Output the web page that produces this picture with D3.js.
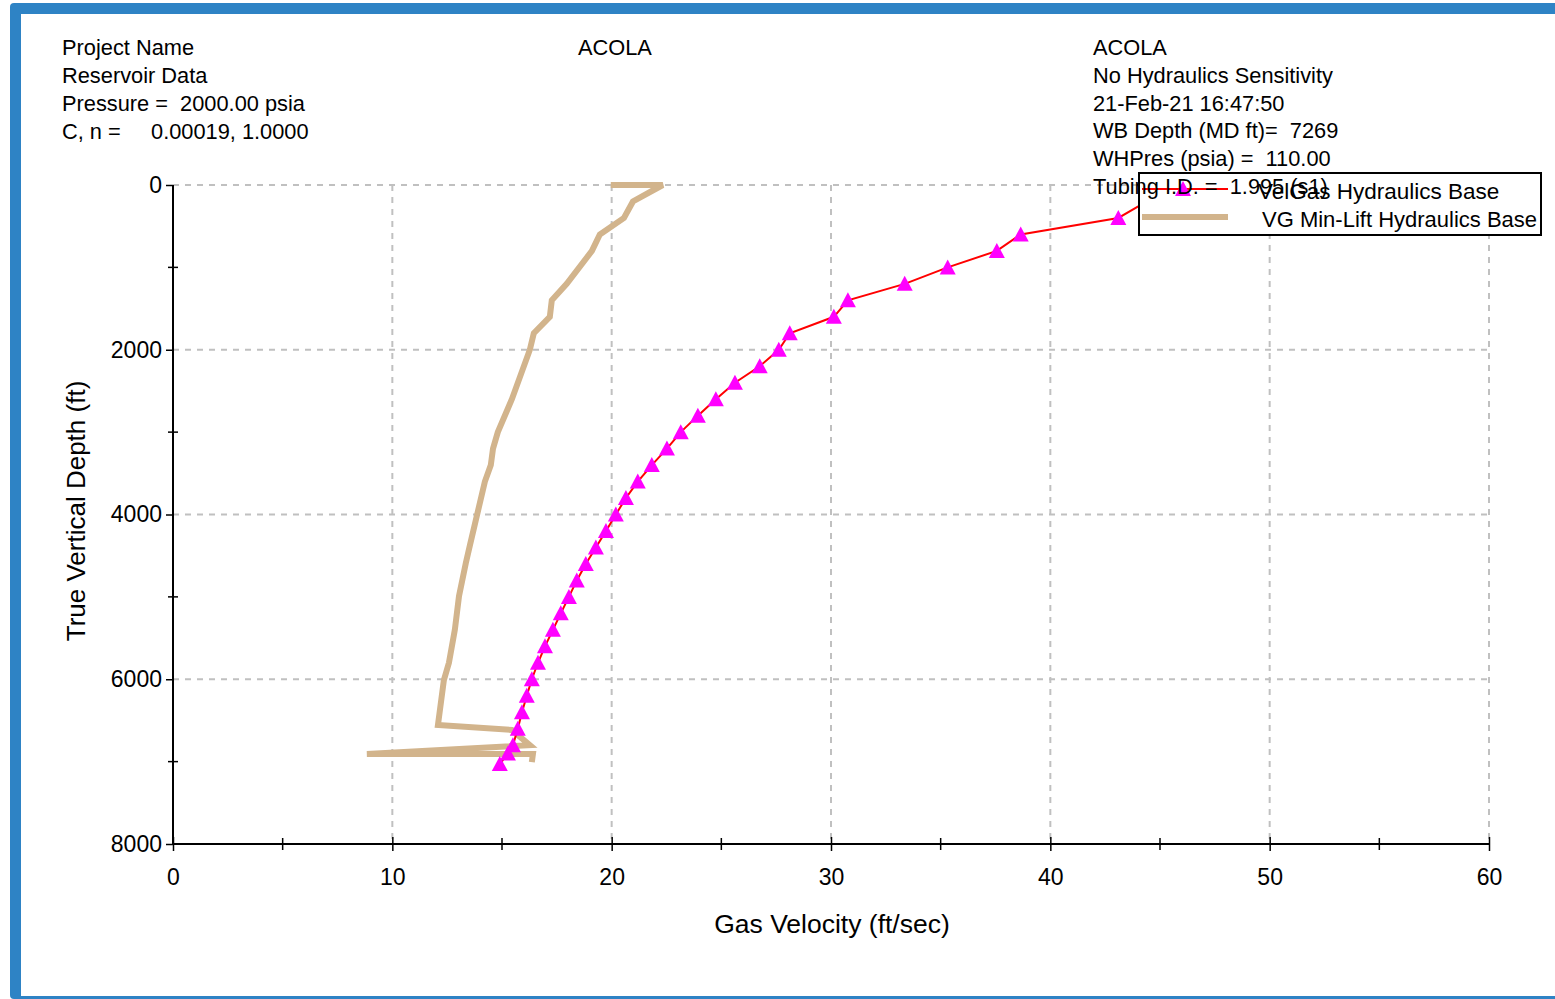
<!DOCTYPE html>
<html>
<head>
<meta charset="utf-8">
<script src="https://cdn.jsdelivr.net/npm/d3@7"></script>
<style>
  body { margin: 0; background: #fff; }
  svg { display: block; font-family: "Liberation Sans", Arial, sans-serif; }
</style>
</head>
<body>
<div id="chart"></div>
<script>
// VelGas Hydraulics Base (depth ft, gas velocity ft/sec)
var velDepth = [0, 200, 400, 600, 800, 1000, 1200, 1400, 1600, 1800, 2000, 2200, 2400, 2600, 2800, 3000,
                3200, 3400, 3600, 3800, 4000, 4200, 4400, 4600, 4800, 5000, 5200, 5400, 5600, 5800, 6000,
                6200, 6400, 6600, 6800, 6900, 7030];
var velGas = [47.0, 44.4, 43.1, 38.65, 37.56, 35.32, 33.36, 30.77, 30.13, 28.12, 27.62, 26.75, 25.62, 24.75, 23.93, 23.15,
              22.52, 21.83, 21.19, 20.65, 20.19, 19.74, 19.28, 18.82, 18.41, 18.05, 17.68, 17.32, 16.96, 16.64, 16.36,
              16.13, 15.91, 15.72, 15.5, 15.27, 14.9];

// VG Min-Lift Hydraulics Base
var minDepth = [0, 0, 200, 400, 600, 800, 1200, 1400, 1600, 1800, 2000, 2600, 3000, 3200, 3400, 3600,
                4370, 4590, 4990, 5400, 5800, 6010, 6555, 6616, 6800, 6908, 6908, 7005];
var minVel = [19.96, 22.33, 20.97, 20.56, 19.46, 19.1, 17.95, 17.27, 17.18, 16.45, 16.27, 15.45, 14.81, 14.59, 14.49, 14.22,
              13.54, 13.35, 13.04, 12.85, 12.58, 12.35, 12.08, 15.45, 16.27, 8.84, 16.41, 16.36];

var xMajor = [0, 10, 20, 30, 40, 50, 60];
var xMinor = [5, 15, 25, 35, 45, 55];
var yMajor = [0, 2000, 4000, 6000, 8000];
var yMinor = [1000, 3000, 5000, 7000];

var leftText = ["Project Name", "Reservoir Data", "Pressure =  2000.00 psia", "C, n =     0.00019, 1.0000"];
var rightText = ["ACOLA", "No Hydraulics Sensitivity", "21-Feb-21 16:47:50", "WB Depth (MD ft)=  7269",
                 "WHPres (psia) =  110.00", "Tubing I.D. =  1.995 (s1)"];

var W = 1555, H = 999;
var svg = d3.select("#chart").append("svg").attr("width", W).attr("height", H);

// frame
svg.append("rect").attr("x", 10).attr("y", 3).attr("width", W).attr("height", H - 3)
   .attr("rx", 4).attr("fill", "#2e83c5");
svg.append("rect").attr("x", 21).attr("y", 14).attr("width", W).attr("height", 982).attr("fill", "#fff");

var x = d3.scaleLinear().domain([0, 60]).range([173, 1489]);
var y = d3.scaleLinear().domain([0, 8000]).range([185, 844]);

// grid
svg.append("g").selectAll("line").data(xMajor.slice(1)).enter().append("line")
   .attr("x1", d => x(d)).attr("x2", d => x(d)).attr("y1", y(0)).attr("y2", y(8000))
   .attr("stroke", "#c0c0c0").attr("stroke-width", 2).attr("stroke-dasharray", "6,6");
svg.append("g").selectAll("line").data(yMajor.slice(0, -1)).enter().append("line")
   .attr("x1", x(0)).attr("x2", x(60)).attr("y1", d => y(d)).attr("y2", d => y(d))
   .attr("stroke", "#c0c0c0").attr("stroke-width", 2).attr("stroke-dasharray", "6,6");

// axes
var xAxis = d3.axisBottom(x).tickValues(xMajor).tickSize(7).tickPadding(18);
var gx = svg.append("g").attr("transform", "translate(0," + y(8000) + ")").call(xAxis);
gx.select(".domain").attr("stroke", "#000").attr("stroke-width", 2).attr("d", "M" + x(0) + ",0H" + x(60));
gx.selectAll(".tick line").attr("y1", -7).attr("stroke-width", 1.5);
gx.selectAll(".tick text").attr("font-size", 23).attr("fill", "#000").attr("font-family", "Liberation Sans, Arial");
gx.append("g").selectAll("line").data(xMinor).enter().append("line")
  .attr("x1", d => x(d)).attr("x2", d => x(d)).attr("y1", -6).attr("y2", 6)
  .attr("stroke", "#000").attr("stroke-width", 1.5);

var yAxis = d3.axisLeft(y).tickValues(yMajor).tickFormat(d3.format("d")).tickSize(7).tickPadding(4);
var gy = svg.append("g").attr("transform", "translate(" + x(0) + ",0)").call(yAxis);
gy.select(".domain").attr("stroke", "#000").attr("stroke-width", 2).attr("d", "M0," + y(0) + "V" + y(8000));
gy.selectAll(".tick line").attr("x2", -7).attr("stroke-width", 1.5);
gy.selectAll(".tick text").attr("font-size", 23).attr("fill", "#000").attr("font-family", "Liberation Sans, Arial");
gy.append("g").selectAll("line").data(yMinor).enter().append("line")
  .attr("y1", d => y(d)).attr("y2", d => y(d)).attr("x1", -5).attr("x2", 5)
  .attr("stroke", "#000").attr("stroke-width", 1.5);

// axis titles
svg.append("text").attr("x", 832).attr("y", 933).attr("text-anchor", "middle")
   .attr("font-size", 26.5).text("Gas Velocity (ft/sec)");
svg.append("text").attr("transform", "translate(85,511) rotate(-90)").attr("text-anchor", "middle")
   .attr("font-size", 26).text("True Vertical Depth (ft)");

// series
var minPts = minDepth.map((d, i) => [minVel[i], d]);
var velPts = velDepth.map((d, i) => [velGas[i], d]);
var line = d3.line().x(d => x(d[0])).y(d => y(d[1]));

svg.append("path").attr("d", line(minPts)).attr("fill", "none")
   .attr("stroke", "#d2b48c").attr("stroke-width", 6).attr("stroke-linejoin", "miter");
svg.append("path").attr("d", line(velPts)).attr("fill", "none")
   .attr("stroke", "#ff0000").attr("stroke-width", 2);

// upward triangle, 16 wide x 15 tall, centred on the point
var triType = { draw: function (ctx) { ctx.moveTo(0, -8); ctx.lineTo(8, 7); ctx.lineTo(-8, 7); ctx.closePath(); } };
var tri = d3.symbol(triType);
svg.append("g").selectAll("path").data(velPts).enter().append("path")
   .attr("d", tri).attr("transform", d => "translate(" + x(d[0]) + "," + y(d[1]) + ")")
   .attr("fill", "#ff00ff");

// legend
var lg = svg.append("g");
lg.append("rect").attr("x", 1139).attr("y", 173).attr("width", 402).attr("height", 62)
  .attr("fill", "#fff").attr("stroke", "#000").attr("stroke-width", 2);
lg.append("line").attr("x1", 1142).attr("x2", 1228).attr("y1", 189).attr("y2", 189)
  .attr("stroke", "#ff0000").attr("stroke-width", 2);
lg.append("path").attr("d", tri).attr("transform", "translate(1183,189)").attr("fill", "#ff00ff");
lg.append("line").attr("x1", 1142).attr("x2", 1228).attr("y1", 217).attr("y2", 217)
  .attr("stroke", "#d2b48c").attr("stroke-width", 6);
lg.append("text").attr("x", 1258).attr("y", 199).attr("font-size", 22.5).text("VelGas Hydraulics Base");
lg.append("text").attr("x", 1262).attr("y", 227).attr("font-size", 22).text("VG Min-Lift Hydraulics Base");

// header text
svg.append("g").selectAll("text").data(leftText).enter().append("text")
   .attr("x", 62).attr("y", (d, i) => 55 + i * 28).attr("font-size", 21.8).style("white-space", "pre")
   .text(d => d);
svg.append("text").attr("x", 578).attr("y", 55).attr("font-size", 21.8).text("ACOLA");
svg.append("g").selectAll("text").data(rightText).enter().append("text")
   .attr("x", 1093).attr("y", (d, i) => 55 + i * 27.8).attr("font-size", 21.8).style("white-space", "pre")
   .text(d => d);
</script>
</body>
</html>
